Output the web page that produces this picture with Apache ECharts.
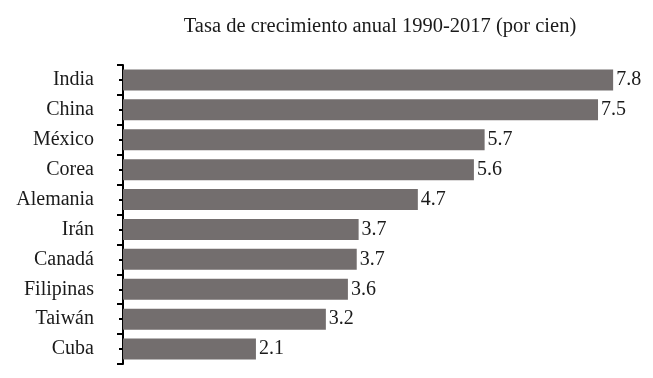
<!DOCTYPE html>
<html>
<head>
<meta charset="utf-8">
<script src="https://cdn.jsdelivr.net/npm/echarts@6/dist/echarts.min.js"></script>
<style>
  html, body { margin: 0; padding: 0; background: #fff; }
  #chart { width: 653px; height: 378px; }
</style>
</head>
<body>
<div id="chart"></div>
<script>
const countries = ['India', 'China', 'México', 'Corea', 'Alemania', 'Irán', 'Canadá', 'Filipinas', 'Taiwán', 'Cuba'];
const growth = [7.78, 7.54, 5.74, 5.57, 4.68, 3.74, 3.71, 3.57, 3.22, 2.11];

const serif = '"Liberation Serif", "DejaVu Serif", serif';

const chart = echarts.init(document.getElementById('chart'));

chart.setOption({
  animation: false,
  title: {
    text: 'Tasa de crecimiento anual 1990-2017 (por cien)',
    left: 375,
    textAlign: 'center',
    top: 11,
    textStyle: { fontFamily: serif, fontSize: 20.5, fontWeight: 'normal', color: '#1a1a1a' }
  },
  grid: { left: 123, right: 26, top: 65, bottom: 14 },
  xAxis: {
    type: 'value',
    min: 0,
    max: 8,
    show: false
  },
  yAxis: [
    {
      type: 'category',
      data: countries,
      inverse: true,
      axisLine: { show: true, lineStyle: { color: '#000', width: 2 } },
      axisTick: { show: true, length: 6, lineStyle: { color: '#000', width: 2 } },
      axisLabel: { margin: 29, fontFamily: serif, fontSize: 20, color: '#1a1a1a' }
    },
    {
      // short ticks at the centre of each bar
      type: 'category',
      data: countries,
      inverse: true,
      position: 'left',
      axisLine: { show: false },
      axisTick: { show: true, alignWithLabel: true, length: 4, lineStyle: { color: '#000', width: 2 } },
      axisLabel: { show: false }
    }
  ],
  series: [{
    type: 'bar',
    data: growth,
    barWidth: 21,
    itemStyle: { color: '#736e6e' },
    label: {
      show: true,
      position: 'right',
      distance: 3,
      formatter: p => p.value.toFixed(1),
      fontFamily: serif,
      fontSize: 20,
      color: '#1a1a1a'
    }
  }]
});
</script>
</body>
</html>
